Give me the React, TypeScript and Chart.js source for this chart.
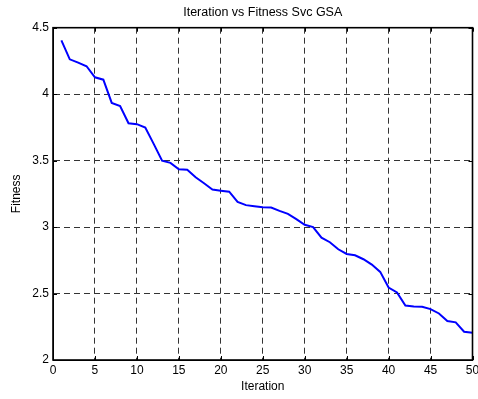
import React, { useEffect, useRef } from "react";
import { Chart, registerables } from "chart.js";

Chart.register(...registerables);

const iterations = [
  1, 2, 3, 4, 5, 6, 7, 8, 9, 10, 11, 12, 13, 14, 15, 16, 17, 18, 19, 20, 21, 22, 23, 24, 25,
  26, 27, 28, 29, 30, 31, 32, 33, 34, 35, 36, 37, 38, 39, 40, 41, 42, 43, 44, 45, 46, 47, 48, 49, 50,
];
const fitness = [
  4.405, 4.262, 4.237, 4.21, 4.127, 4.109, 3.934, 3.911, 3.781, 3.774,
  3.748, 3.626, 3.5, 3.483, 3.435, 3.432, 3.375, 3.33, 3.283, 3.274,
  3.266, 3.19, 3.165, 3.157, 3.15, 3.147, 3.122, 3.1, 3.06, 3.017,
  3.0, 2.92, 2.886, 2.833, 2.798, 2.788, 2.758, 2.718, 2.663, 2.545,
  2.508, 2.41, 2.403, 2.4, 2.383, 2.35, 2.293, 2.283, 2.213, 2.205,
];
const xMin = 0;
const xMax = 50;
const xStep = 5;
const yMin = 2;
const yMax = 4.5;
const yStep = 0.5;

const chartTitle = "Iteration vs Fitness Svc GSA";
const xTitle = "Iteration";
const yTitle = "Fitness";

const FONT = "'Liberation Sans', Arial, Helvetica, sans-serif";

const boxPlugin = {
  id: "matlabBox",
  afterDraw(chart: any) {
    const { ctx, chartArea } = chart;
    const { left, right, top, bottom } = chartArea;
    ctx.save();
    ctx.strokeStyle = "#000";
    ctx.setLineDash([]);
    ctx.lineWidth = 1;
    const tl = 4;
    const xs = chart.scales.x;
    const ys = chart.scales.y;
    ctx.beginPath();
    xs.ticks.forEach((t: any) => {
      const px = Math.round(xs.getPixelForValue(t.value)) + 0.5;
      ctx.moveTo(px, bottom);
      ctx.lineTo(px, bottom - tl);
      ctx.moveTo(px, top);
      ctx.lineTo(px, top + tl);
    });
    ys.ticks.forEach((t: any) => {
      const py = Math.round(ys.getPixelForValue(t.value)) + 0.5;
      ctx.moveTo(left, py);
      ctx.lineTo(left + tl, py);
      ctx.moveTo(right, py);
      ctx.lineTo(right - tl, py);
    });
    ctx.stroke();
    ctx.lineWidth = 1.6;
    ctx.strokeRect(left, top, right - left, bottom - top);
    ctx.restore();
  },
};

export default function App() {
  const ref = useRef<HTMLCanvasElement | null>(null);

  useEffect(() => {
    if (!ref.current) return;
    const points = iterations.map((x, i) => ({ x, y: fitness[i] }));
    const chart = new Chart(ref.current, {
      type: "line",
      data: {
        datasets: [
          {
            data: points,
            borderColor: "#0000ff",
            backgroundColor: "#0000ff",
            borderWidth: 2,
            pointRadius: 0,
            tension: 0,
            fill: false,
          },
        ],
      },
      options: {
        animation: false,
        responsive: false,
        maintainAspectRatio: false,
        layout: { padding: { left: 0, right: 5.5, top: 0, bottom: 0 } },
        plugins: {
          legend: { display: false },
          tooltip: { enabled: false },
          title: {
            display: true,
            fullSize: false,
            text: chartTitle,
            color: "#000",
            font: { family: FONT, size: 12.5, weight: "normal" },
            padding: { top: 5.5, bottom: 7.2 },
          },
        },
        scales: {
          x: {
            type: "linear",
            min: xMin,
            max: xMax,
            ticks: {
              stepSize: xStep,
              color: "#000",
              font: { family: FONT, size: 12 },
              padding: 3,
              maxRotation: 0,
              callback: (v: any) => String(Number(v)),
            },
            grid: {
              color: "#333",
              lineWidth: 1,
              drawTicks: false,
              tickLength: 0,
            },
            border: { display: true, color: "#000", dash: [6, 4], width: 1 },
            title: {
              display: true,
              text: xTitle,
              color: "#000",
              font: { family: FONT, size: 12 },
              padding: { top: 0, bottom: 4.8 },
            },
            afterFit(scale: any) {
              scale.height = 39;
              scale.paddingLeft = 0;
              scale.paddingRight = 0;
            },
          },
          y: {
            type: "linear",
            min: yMin,
            max: yMax,
            ticks: {
              stepSize: yStep,
              color: "#000",
              font: { family: FONT, size: 12 },
              padding: 4,
              callback: (v: any) => String(Number(v)),
            },
            grid: {
              color: "#333",
              lineWidth: 1,
              drawTicks: false,
              tickLength: 0,
            },
            border: { display: true, color: "#000", dash: [6, 4], width: 1 },
            title: {
              display: true,
              text: yTitle,
              color: "#000",
              font: { family: FONT, size: 12 },
              padding: { top: 9, bottom: 0 },
            },
            afterFit(scale: any) {
              scale.width = 53;
              scale.paddingTop = 0;
              scale.paddingBottom = 0;
            },
          },
        },
      } as any,
      plugins: [boxPlugin],
    });
    return () => chart.destroy();
  }, []);

  return (
    <div style={{ position: "absolute", left: 0, top: 0, width: 478, height: 399, background: "#fff" }}>
      <canvas ref={ref} width={478} height={399} style={{ width: 478, height: 399, display: "block" }} />
    </div>
  );
}
